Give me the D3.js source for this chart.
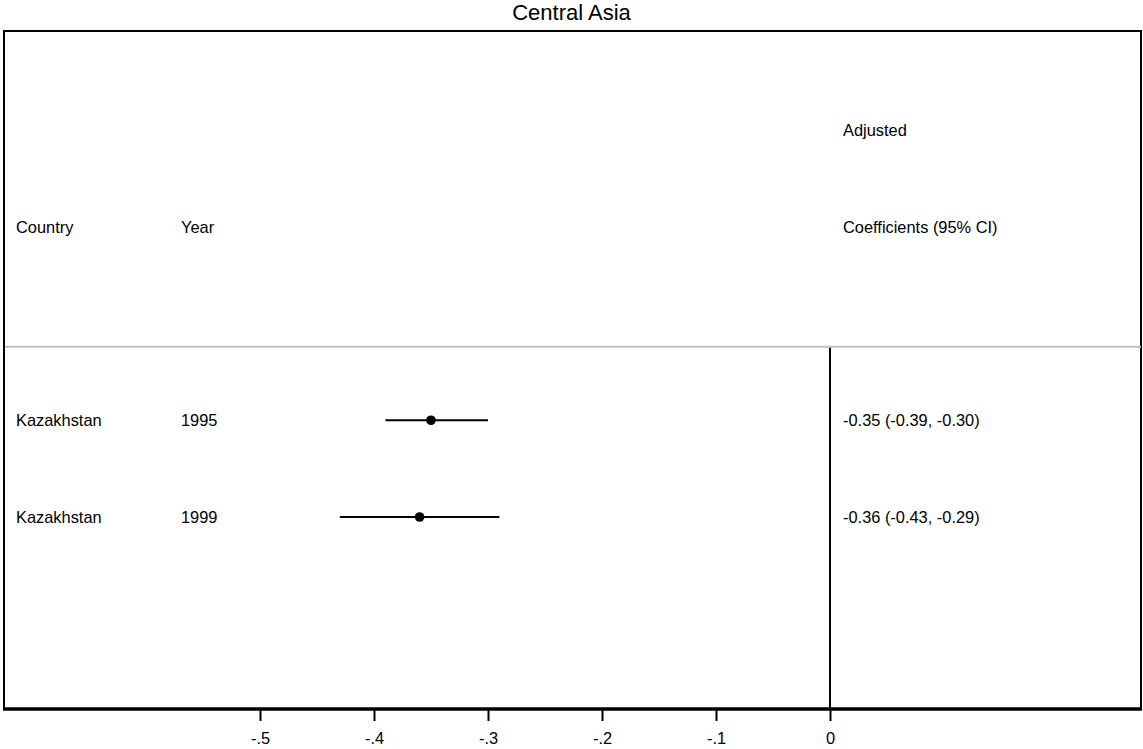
<!DOCTYPE html>
<html>
<head>
<meta charset="utf-8">
<script src="https://cdn.jsdelivr.net/npm/d3@7"></script>
<style>
  body { margin: 0; background: #fff; }
  svg { display: block; font-family: "Liberation Sans", Arial, sans-serif; }
</style>
</head>
<body>
<svg id="chart" width="1143" height="749"></svg>
<script>
// Study rows for the forest plot
const countries = ["Kazakhstan", "Kazakhstan"];
const years = ["1995", "1999"];
const estimates = [-0.35, -0.36];
const lowerCI = [-0.39, -0.43];
const upperCI = [-0.30, -0.29];
const ciLabels = ["-0.35 (-0.39, -0.30)", "-0.36 (-0.43, -0.29)"];
const xTicks = [-0.5, -0.4, -0.3, -0.2, -0.1, 0];
const xTickLabels = ["-.5", "-.4", "-.3", "-.2", "-.1", "0"];

(function () {
  const svg = d3.select("#chart");
  const W = 1143;
  const fs = 16.4;
  const textDy = 1.5; // nudge so the text's visual centre sits on the row line

  const frameLeft = 4, frameRight = 1141, frameTop = 31, frameBottom = 709;

  // x: coefficient scale; y: row positions (header rows, then studies)
  const x = d3.scaleLinear().domain([-0.5, 0]).range([260, 830]);
  const y = d3.scaleLinear().domain([0, 4]).range([130, 517]);

  // Title
  svg.append("text")
    .attr("x", W / 2).attr("y", 20)
    .attr("text-anchor", "middle")
    .attr("font-size", 22)
    .text("Central Asia");

  // Frame
  svg.append("rect")
    .attr("x", frameLeft).attr("y", frameTop)
    .attr("width", frameRight - frameLeft).attr("height", frameBottom - frameTop)
    .attr("fill", "none").attr("stroke", "#000").attr("stroke-width", 2);

  // Separator below header
  const sepY = y(2.24);
  svg.append("line")
    .attr("x1", frameLeft + 1).attr("x2", frameRight)
    .attr("y1", sepY).attr("y2", sepY)
    .attr("stroke", "#c0c0c0").attr("stroke-width", 2);

  // No-effect line at 0
  svg.append("line")
    .attr("x1", x(0)).attr("x2", x(0))
    .attr("y1", sepY + 1).attr("y2", frameBottom)
    .attr("stroke", "#000").attr("stroke-width", 2);

  // Header text
  const header = svg.append("g").attr("font-size", fs).attr("dominant-baseline", "middle");
  header.append("text").attr("x", 16).attr("y", y(1) + textDy).text("Country");
  header.append("text").attr("x", 181).attr("y", y(1) + textDy).text("Year");
  header.append("text").attr("x", 843).attr("y", y(0) + textDy).text("Adjusted");
  header.append("text").attr("x", 843).attr("y", y(1) + textDy).text("Coefficients (95% CI)");

  // Study rows
  const rows = estimates.map((e, i) => ({
    country: countries[i], year: years[i], est: e, lo: lowerCI[i], hi: upperCI[i], label: ciLabels[i], row: 3 + i
  }));

  const g = svg.append("g");
  rows.forEach(d => {
    const cy = y(d.row);
    g.append("text").attr("x", 16).attr("y", cy + textDy).attr("font-size", fs)
      .attr("dominant-baseline", "middle").text(d.country);
    g.append("text").attr("x", 181).attr("y", cy + textDy).attr("font-size", fs)
      .attr("dominant-baseline", "middle").text(d.year);
    g.append("text").attr("x", 843).attr("y", cy + textDy).attr("font-size", fs)
      .attr("dominant-baseline", "middle").text(d.label);
    g.append("line")
      .attr("x1", x(d.lo)).attr("x2", x(d.hi))
      .attr("y1", cy).attr("y2", cy)
      .attr("stroke", "#000").attr("stroke-width", 2);
    g.append("circle")
      .attr("cx", x(d.est)).attr("cy", cy).attr("r", 4.8)
      .attr("fill", "#000");
  });

  // Bottom axis
  const axis = d3.axisBottom(x)
    .tickValues(xTicks)
    .tickFormat((d, i) => xTickLabels[i])
    .tickSize(12)
    .tickPadding(11);

  const ax = svg.append("g")
    .attr("transform", `translate(0,${frameBottom})`)
    .call(axis);
  ax.select(".domain").remove();
  ax.selectAll(".tick line").attr("stroke", "#000").attr("stroke-width", 2);
  ax.selectAll(".tick text").attr("font-size", fs).attr("fill", "#000")
    .attr("font-family", "\"Liberation Sans\", Arial, sans-serif");

  // Thick axis line along the bottom of the frame
  svg.append("line")
    .attr("x1", frameLeft - 1).attr("x2", frameRight + 1)
    .attr("y1", frameBottom).attr("y2", frameBottom)
    .attr("stroke", "#000").attr("stroke-width", 3.5);
})();
</script>
</body>
</html>
